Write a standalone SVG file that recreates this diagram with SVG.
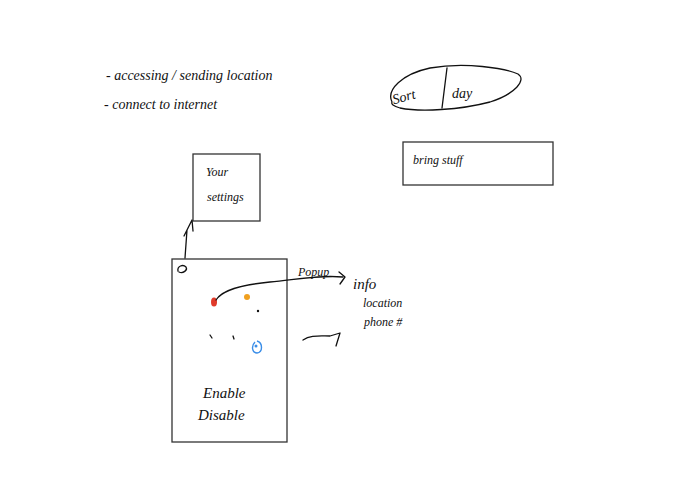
<svg xmlns="http://www.w3.org/2000/svg" width="695" height="494" viewBox="0 0 695 494">
<style>
.box{fill:none;stroke:#333;stroke-width:1.3}
.ink{fill:none;stroke:#111;stroke-width:1.3;stroke-linecap:round;stroke-linejoin:round}
.t{font-family:"Liberation Serif",serif;font-style:italic;fill:#111}
</style>
<rect width="695" height="494" fill="#fff"/>
<g id="notes">
<text class="t" x="106" y="80" font-size="14">- accessing / sending location</text>
<text class="t" x="104" y="109" font-size="14">- connect to internet</text>
</g>
<g id="sort-day">
<path class="ink" d="M392,102 C386,90 402,74 430,68 C465,62 505,68 518,74 C527,80 515,94 490,102 C460,110 420,112 400,108 C393,106 391,104 392,102 Z"/>
<path class="ink" d="M447,68 L442,108"/>
<text class="t" x="392" y="101" font-size="14" transform="rotate(-15 405 96)">Sort</text>
<text class="t" x="452" y="98" font-size="14">day</text>
</g>
<g id="bring-stuff">
<rect class="box" x="403" y="142" width="150" height="43"/>
<text class="t" x="413" y="164" font-size="12">bring stuff</text>
</g>
<g id="settings">
<rect class="box" x="193" y="154" width="67" height="67"/>
<text class="t" x="206" y="176" font-size="12">Your</text>
<text class="t" x="207" y="201" font-size="12">settings</text>
</g>
<g id="phone">
<rect class="box" x="172" y="259" width="115" height="183"/>
<path class="ink" d="M178,271 C177,266 183,264 186,267 C188,270 183,274 179,272"/>
<ellipse cx="214" cy="302" rx="3" ry="4.5" fill="#e03a2a"/>
<circle cx="247" cy="297" r="3" fill="#f0a020"/>
<circle cx="258" cy="311" r="1.2" fill="#111"/>
<path class="ink" d="M210,335 L212,338 M233,336 L234,339"/>
<path d="M255,342 C251,346 252,353 257,353 C263,352 263,343 257,341" fill="none" stroke="#3b8ee8" stroke-width="1.4"/>
<circle cx="256" cy="346" r="1.5" fill="#3b8ee8"/>
<text class="t" x="203" y="398" font-size="15">Enable</text>
<text class="t" x="198" y="420" font-size="15">Disable</text>
</g>
<g id="popup">
<text class="t" x="298" y="276" font-size="12">Popup</text>
<text class="t" x="353" y="289" font-size="15">info</text>
<text class="t" x="363" y="307" font-size="12">location</text>
<text class="t" x="364" y="326" font-size="12">phone #</text>
</g>
<g id="connectors">
<path class="ink" d="M216,300 C222,290 240,285 270,282 C300,279 320,275 343,277"/>
<path class="ink" d="M339,272 L345,277 L340,284"/>
<path class="ink" d="M185,258 L187,230 L192,220 M184,236 L192,220 L193,231"/>
<path class="ink" d="M303,340 C310,335 318,336 330,336 L340,333 L336,346"/>
</g>
</svg>
